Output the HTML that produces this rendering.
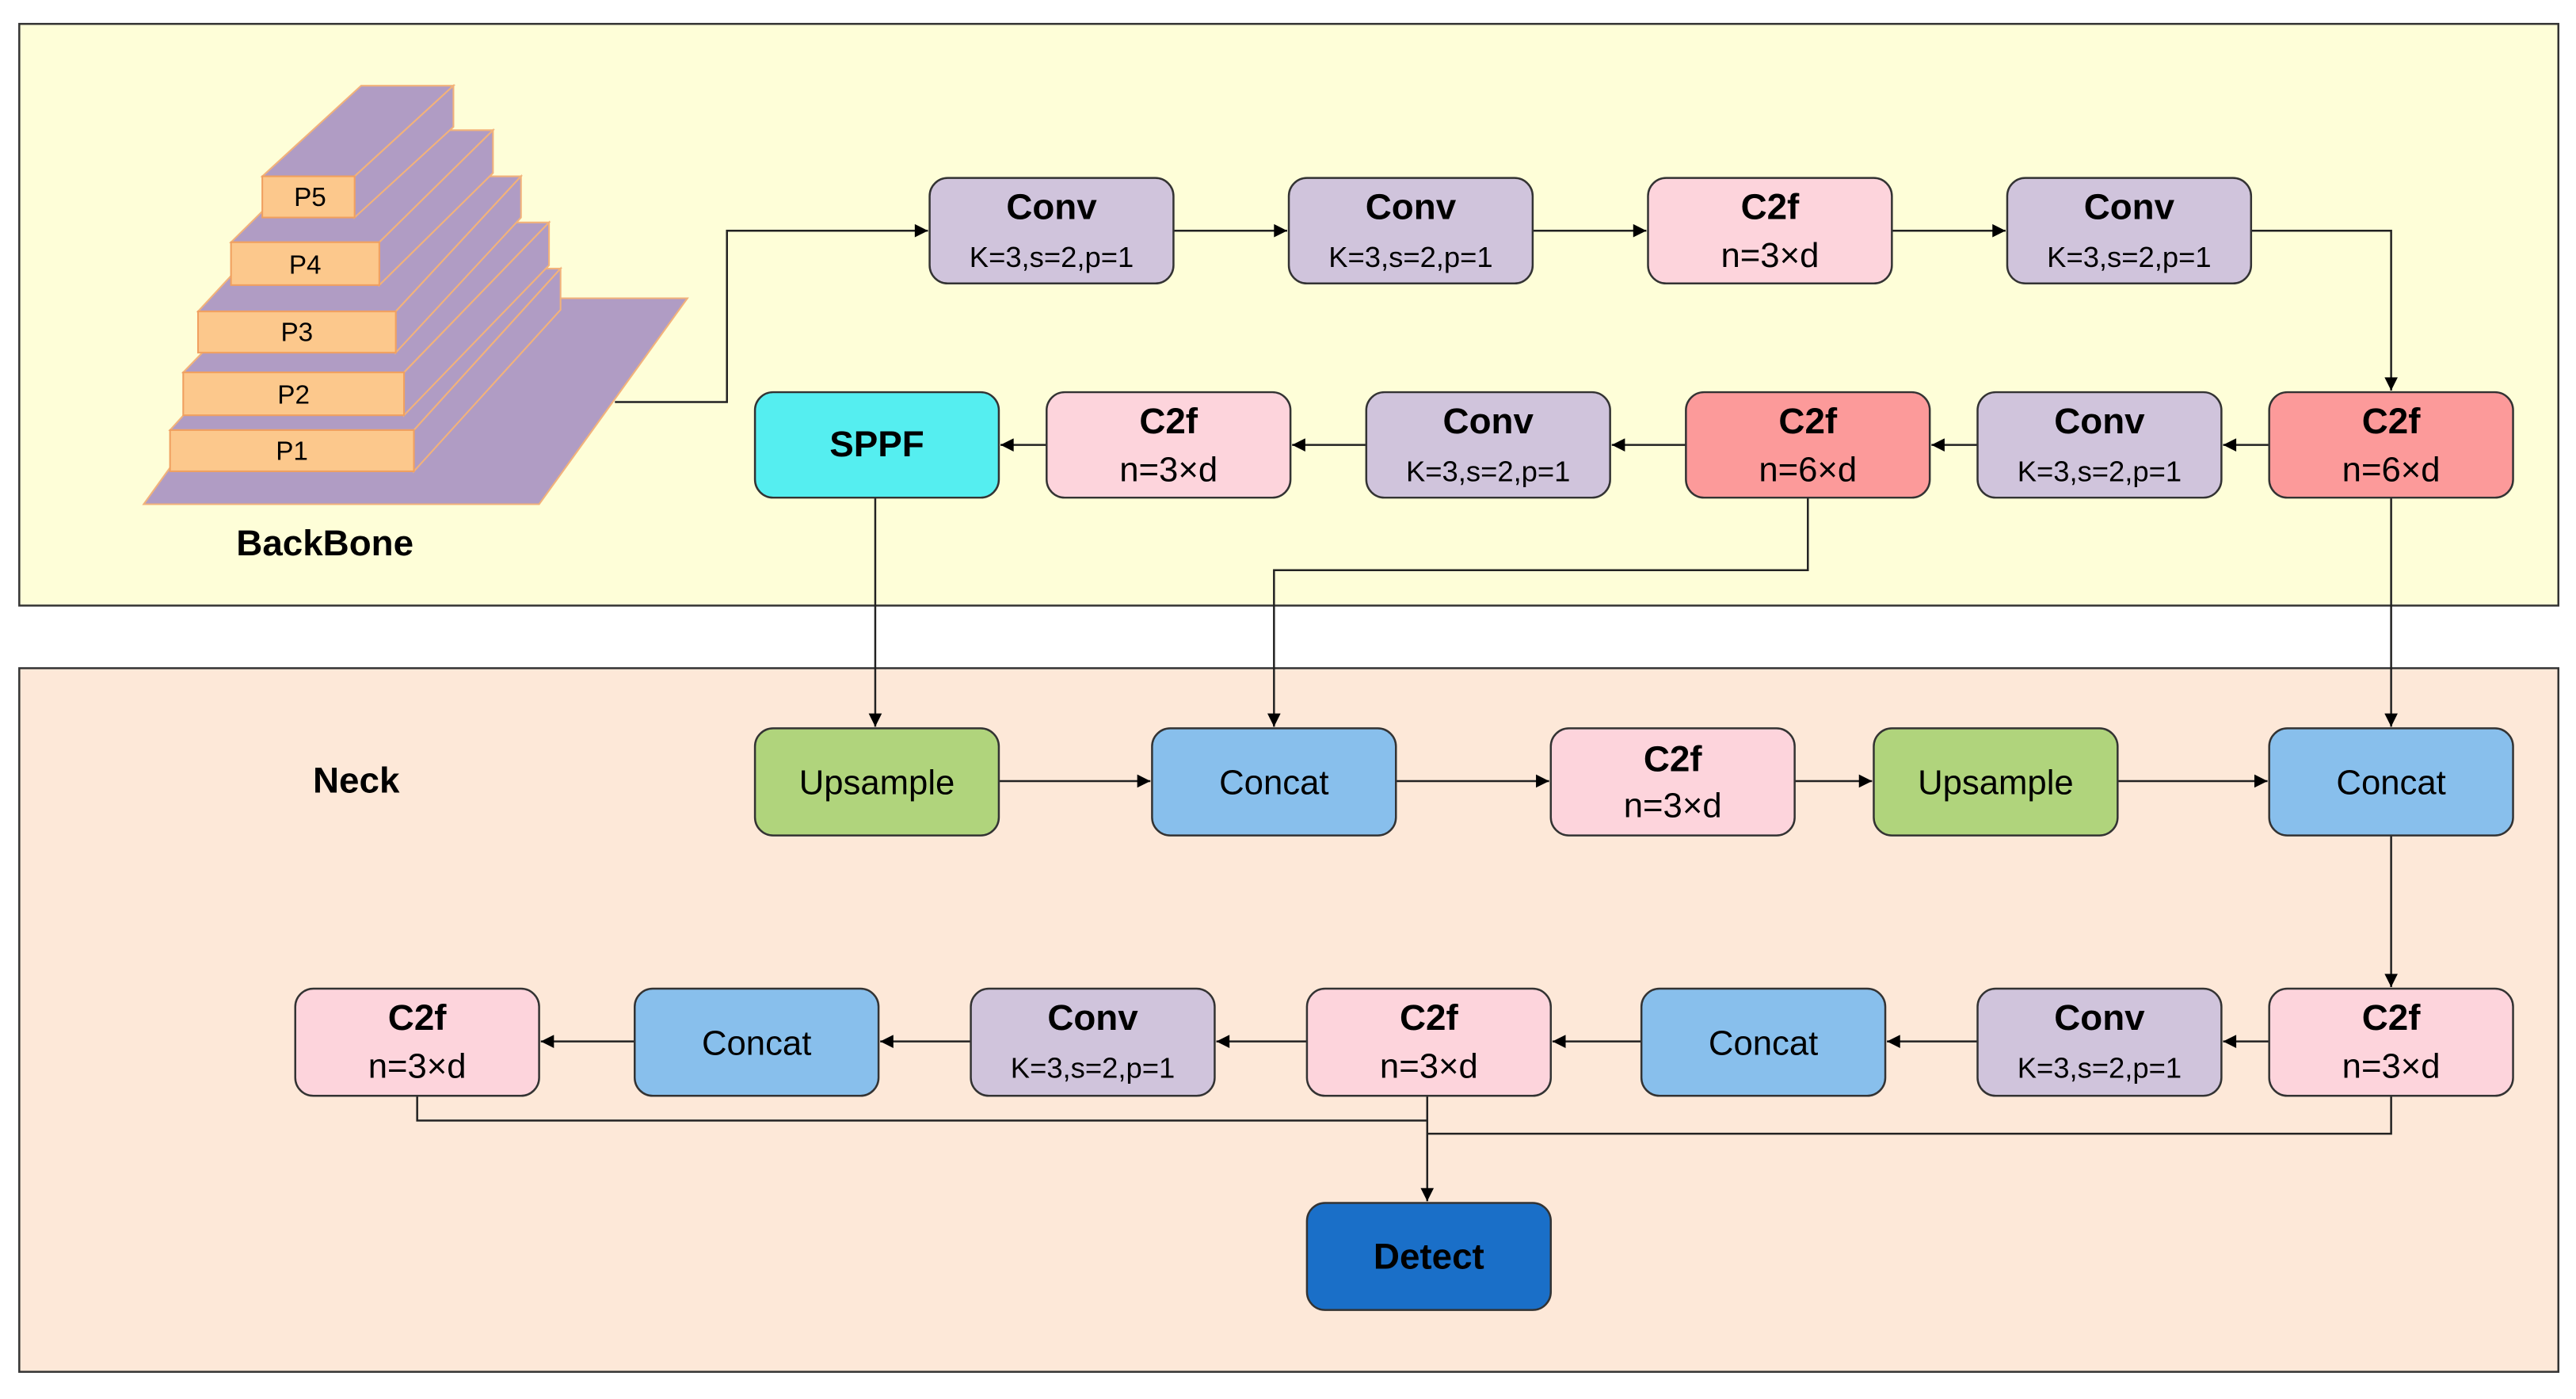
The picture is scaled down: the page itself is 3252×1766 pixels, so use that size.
<!DOCTYPE html>
<html><head><meta charset="utf-8"><style>
html,body{margin:0;padding:0;background:#fff}
svg{display:block}
text{font-family:"Liberation Sans",sans-serif;text-anchor:middle;fill:#000}
.t{font-weight:bold;font-size:22px}
.s{font-size:17.5px}
.n{font-size:21px}
.l{font-size:21px}
</style></head><body>
<svg width="3252" height="1766" viewBox="0 0 1563 849" xmlns="http://www.w3.org/2000/svg">
<defs>
<marker id="a" viewBox="0 0 10 10" refX="10" refY="5" markerWidth="10" markerHeight="8" markerUnits="userSpaceOnUse" orient="auto">
<path d="M0,0 L10,5 L0,10 z" fill="#000"/></marker>
</defs>
<rect x="0" y="0" width="1563" height="849" fill="#fff"/>
<rect x="11.5" y="14.5" width="1541" height="353" fill="#fefed8" stroke="#333" stroke-width="1.2"/>
<rect x="11.5" y="405.5" width="1541" height="427" fill="#fde8d8" stroke="#333" stroke-width="1.2"/>

<!-- staircase -->
<g stroke="#f2b27a" stroke-width="1">
<polygon points="87,306 327,306 417,181 177,181" fill="#b09cc4"/>
<g fill="#b09cc4">
<polygon points="103,261 251,261 340,163 192,163"/><polygon points="251,261 340,163 340,188 251,286"/>
<polygon points="111,226 245,226 333,135 199,135"/><polygon points="245,226 333,135 333,161 245,252"/>
<polygon points="120,189 240,189 316,107 196,107"/><polygon points="240,189 316,107 316,132 240,214"/>
<polygon points="140,147 230,147 299,79 209,79"/><polygon points="230,147 299,79 299,105 230,173"/>
<polygon points="159,107 215,107 275,52 219,52"/><polygon points="215,107 275,52 275,77 215,132"/>
</g>
<g fill="#fcc88c" stroke="#f0a060">
<rect x="103" y="261" width="148" height="25"/>
<rect x="111" y="226" width="134" height="26"/>
<rect x="120" y="189" width="120" height="25"/>
<rect x="140" y="147" width="90" height="26"/>
<rect x="159" y="107" width="56" height="25"/>
</g>
</g>
<g style="font-size:16px">
<text x="177" y="279">P1</text><text x="178" y="245">P2</text><text x="180" y="207">P3</text><text x="185" y="166">P4</text><text x="188" y="125">P5</text>
</g>
<text class="t" x="197" y="337">BackBone</text>
<text class="t" x="216" y="481">Neck</text>

<!-- connectors -->
<g fill="none" stroke="#222" stroke-width="1.2">
<polyline points="373,244 441,244 441,140 563,140" marker-end="url(#a)"/>
<line x1="712" y1="140" x2="781" y2="140" marker-end="url(#a)"/>
<line x1="930" y1="140" x2="999" y2="140" marker-end="url(#a)"/>
<line x1="1148" y1="140" x2="1217" y2="140" marker-end="url(#a)"/>
<polyline points="1366,140 1451,140 1451,237" marker-end="url(#a)"/>
<line x1="1377" y1="270" x2="1349" y2="270" marker-end="url(#a)"/>
<line x1="1200" y1="270" x2="1172" y2="270" marker-end="url(#a)"/>
<line x1="1023" y1="270" x2="978" y2="270" marker-end="url(#a)"/>
<line x1="829" y1="270" x2="784" y2="270" marker-end="url(#a)"/>
<line x1="635" y1="270" x2="607" y2="270" marker-end="url(#a)"/>
<line x1="531" y1="302" x2="531" y2="441" marker-end="url(#a)"/>
<polyline points="1097,302 1097,346 773,346 773,441" marker-end="url(#a)"/>
<line x1="1451" y1="302" x2="1451" y2="441" marker-end="url(#a)"/>
<line x1="606" y1="474" x2="698" y2="474" marker-end="url(#a)"/>
<line x1="847" y1="474" x2="940" y2="474" marker-end="url(#a)"/>
<line x1="1089" y1="474" x2="1136" y2="474" marker-end="url(#a)"/>
<line x1="1285" y1="474" x2="1376" y2="474" marker-end="url(#a)"/>
<line x1="1451" y1="507" x2="1451" y2="599" marker-end="url(#a)"/>
<line x1="1377" y1="632" x2="1349" y2="632" marker-end="url(#a)"/>
<line x1="1200" y1="632" x2="1145" y2="632" marker-end="url(#a)"/>
<line x1="996" y1="632" x2="942" y2="632" marker-end="url(#a)"/>
<line x1="793" y1="632" x2="738" y2="632" marker-end="url(#a)"/>
<line x1="589" y1="632" x2="534" y2="632" marker-end="url(#a)"/>
<line x1="385" y1="632" x2="328" y2="632" marker-end="url(#a)"/>
<polyline points="253,665 253,680 866,680"/>
<polyline points="1451,665 1451,688 866,688"/>
<line x1="866" y1="665" x2="866" y2="729" marker-end="url(#a)"/>
</g>

<!-- nodes -->
<g stroke="#333" stroke-width="1.2">
<rect x="564" y="108" width="148" height="64" rx="11" fill="#d0c4dc"/>
<rect x="782" y="108" width="148" height="64" rx="11" fill="#d0c4dc"/>
<rect x="1000" y="108" width="148" height="64" rx="11" fill="#fdd4dc"/>
<rect x="1218" y="108" width="148" height="64" rx="11" fill="#d0c4dc"/>
<rect x="458" y="238" width="148" height="64" rx="11" fill="#55eef0"/>
<rect x="635" y="238" width="148" height="64" rx="11" fill="#fdd4dc"/>
<rect x="829" y="238" width="148" height="64" rx="11" fill="#d0c4dc"/>
<rect x="1023" y="238" width="148" height="64" rx="11" fill="#fc9a9a"/>
<rect x="1200" y="238" width="148" height="64" rx="11" fill="#d0c4dc"/>
<rect x="1377" y="238" width="148" height="64" rx="11" fill="#fc9a9a"/>
<rect x="458" y="442" width="148" height="65" rx="11" fill="#b0d47c"/>
<rect x="699" y="442" width="148" height="65" rx="11" fill="#88bfec"/>
<rect x="941" y="442" width="148" height="65" rx="11" fill="#fdd4dc"/>
<rect x="1137" y="442" width="148" height="65" rx="11" fill="#b0d47c"/>
<rect x="1377" y="442" width="148" height="65" rx="11" fill="#88bfec"/>
<rect x="179" y="600" width="148" height="65" rx="11" fill="#fdd4dc"/>
<rect x="385" y="600" width="148" height="65" rx="11" fill="#88bfec"/>
<rect x="589" y="600" width="148" height="65" rx="11" fill="#d0c4dc"/>
<rect x="793" y="600" width="148" height="65" rx="11" fill="#fdd4dc"/>
<rect x="996" y="600" width="148" height="65" rx="11" fill="#88bfec"/>
<rect x="1200" y="600" width="148" height="65" rx="11" fill="#d0c4dc"/>
<rect x="1377" y="600" width="148" height="65" rx="11" fill="#fdd4dc"/>
<rect x="793" y="730" width="148" height="65" rx="11" fill="#1a6fc8"/>
</g>

<!-- labels -->
<text class="t" x="638" y="133">Conv</text><text class="s" x="638" y="162">K=3,s=2,p=1</text>
<text class="t" x="856" y="133">Conv</text><text class="s" x="856" y="162">K=3,s=2,p=1</text>
<text class="t" x="1074" y="133">C2f</text><text class="n" x="1074" y="162">n=3×d</text>
<text class="t" x="1292" y="133">Conv</text><text class="s" x="1292" y="162">K=3,s=2,p=1</text>
<text class="t" x="532" y="277">SPPF</text>
<text class="t" x="709" y="263">C2f</text><text class="n" x="709" y="292">n=3×d</text>
<text class="t" x="903" y="263">Conv</text><text class="s" x="903" y="292">K=3,s=2,p=1</text>
<text class="t" x="1097" y="263">C2f</text><text class="n" x="1097" y="292">n=6×d</text>
<text class="t" x="1274" y="263">Conv</text><text class="s" x="1274" y="292">K=3,s=2,p=1</text>
<text class="t" x="1451" y="263">C2f</text><text class="n" x="1451" y="292">n=6×d</text>
<text class="l" x="532" y="482">Upsample</text>
<text class="l" x="773" y="482">Concat</text>
<text class="t" x="1015" y="468">C2f</text><text class="n" x="1015" y="496">n=3×d</text>
<text class="l" x="1211" y="482">Upsample</text>
<text class="l" x="1451" y="482">Concat</text>
<text class="t" x="253" y="625">C2f</text><text class="n" x="253" y="654">n=3×d</text>
<text class="l" x="459" y="640">Concat</text>
<text class="t" x="663" y="625">Conv</text><text class="s" x="663" y="654">K=3,s=2,p=1</text>
<text class="t" x="867" y="625">C2f</text><text class="n" x="867" y="654">n=3×d</text>
<text class="l" x="1070" y="640">Concat</text>
<text class="t" x="1274" y="625">Conv</text><text class="s" x="1274" y="654">K=3,s=2,p=1</text>
<text class="t" x="1451" y="625">C2f</text><text class="n" x="1451" y="654">n=3×d</text>
<text class="t" x="867" y="770">Detect</text>
</svg>
</body></html>
